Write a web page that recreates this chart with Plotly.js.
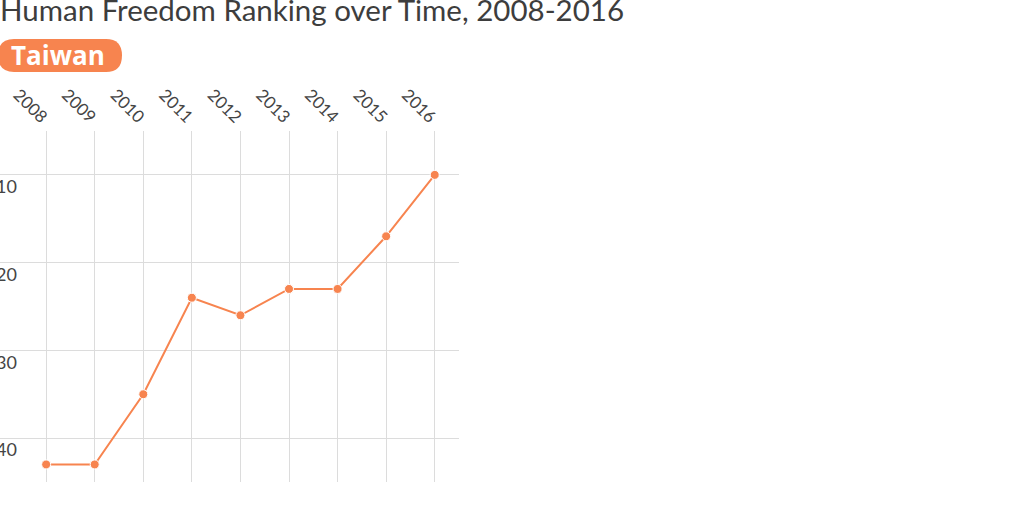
<!DOCTYPE html>
<html>
<head>
<meta charset="utf-8">
<script src="https://cdn.plot.ly/plotly-3.0.1.min.js"></script>
<style>html,body{margin:0;padding:0;background:#fff;}#chart{width:1024px;height:512px;}</style>
</head>
<body>
<div id="chart"></div>
<script>
const years = ["2008","2009","2010","2011","2012","2013","2014","2015","2016"];
const ranks = [43, 43, 35, 24, 26, 23, 23, 17, 10];
const yTicks = [10, 20, 30, 40];
const country = "Taiwan";
const chartTitle = "Human Freedom Ranking over Time, 2008-2016";

const orange = "#F7844F";
const trace = {
  x: years.map((y, i) => i),
  y: ranks,
  type: "scatter",
  mode: "lines+markers",
  line: {color: orange, width: 2},
  marker: {color: orange, size: 9, line: {color: "#fff", width: 1}},
  hoverinfo: "x+y",
  cliponaxis: false
};

const layout = {
  width: 1024, height: 512,
  margin: {l: 0, r: 565, t: 131, b: 30},
  paper_bgcolor: "#fff", plot_bgcolor: "#fff",
  font: {family: "Lato, 'Open Sans', sans-serif", color: "#444"},
  showlegend: false,
  title: {
    text: chartTitle,
    x: 0, xanchor: "left", xref: "paper",
    y: 1, yanchor: "top", yref: "container",
    pad: {t: 0, l: 0},
    font: {size: 29.5, color: "#3d3d3d", family: "Lato, sans-serif"}
  },
  xaxis: {
    side: "top",
    range: [-0.95, 8.5],
    tickmode: "array",
    tickvals: years.map((y, i) => i),
    ticktext: years,
    tickangle: 45,
    tickfont: {size: 17, color: "#444"},
    showgrid: true, gridcolor: "#dcdcdc", gridwidth: 1,
    zeroline: false, showline: false, ticks: "",
    fixedrange: true
  },
  yaxis: {
    range: [45, 5],
    tickmode: "array",
    tickvals: yTicks,
    ticktext: yTicks.map(String),
    ticklabelposition: "inside",
    ticklabelstandoff: -7,
    ticklabelshift: -12,
    tickfont: {size: 18, color: "#444"},
    showgrid: true, gridcolor: "#dcdcdc", gridwidth: 1,
    zeroline: false, showline: false, ticks: "",
    fixedrange: true
  },
  shapes: [{
    type: "path",
    xref: "paper", yref: "paper",
    xsizemode: "pixel", ysizemode: "pixel",
    xanchor: 0, yanchor: 1,
    path: "M 14 59 L 106 59 Q 122 59 122 75.5 Q 122 92 106 92 L 14 92 Q -2 92 -2 75.5 Q -2 59 14 59 Z",
    fillcolor: "#F7844F", line: {width: 0}, layer: "above"
  }],
  annotations: [{
    text: "<b>" + country + "</b>",
    xref: "paper", yref: "paper",
    x: 0, y: 1, xanchor: "left", yanchor: "middle",
    xshift: 9, yshift: 76,
    showarrow: false,
    font: {size: 26, color: "#fff", family: "'Open Sans', sans-serif"}
  }]
};

Plotly.newPlot("chart", [trace], layout, {displayModeBar: false, staticPlot: true});
</script>
</body>
</html>
